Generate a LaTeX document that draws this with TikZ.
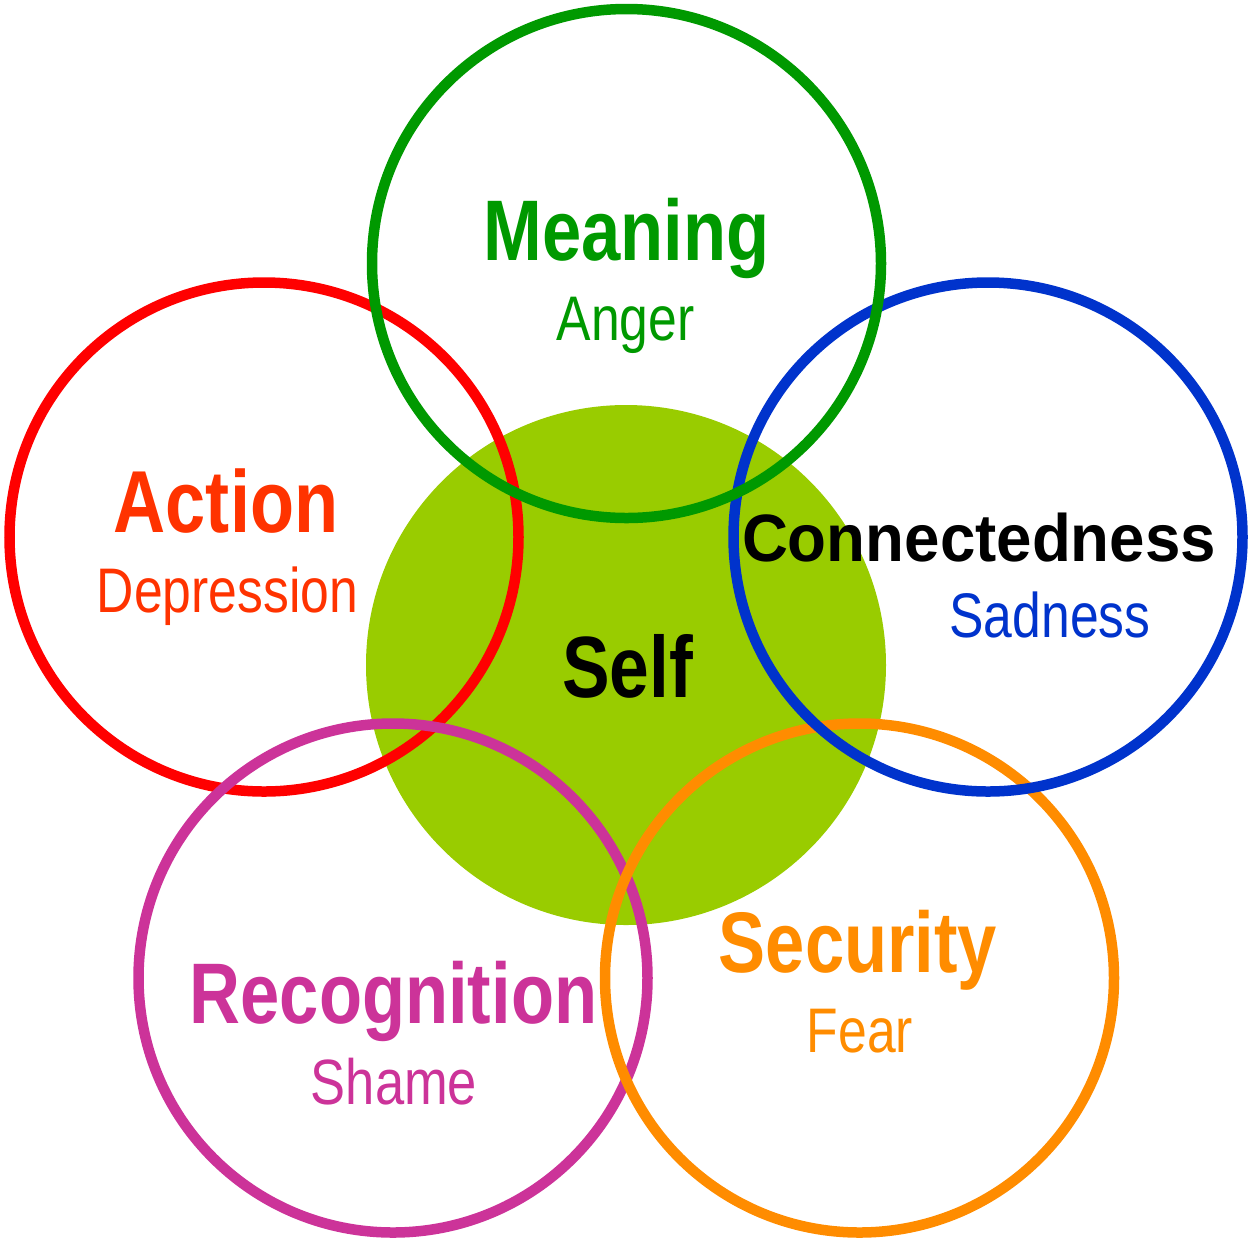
\documentclass[tikz,border=0pt]{standalone}
\usepackage{fontspec}
\setmainfont{Liberation Sans}
\newfontfamily\narrowfont[FakeStretch=0.82]{Liberation Sans}
\newfontfamily\wideboldfont[FakeStretch=0.95]{Liberation Sans}
\definecolor{meaninggreen}{HTML}{009900}
\definecolor{selfgreen}{HTML}{99CC00}
\definecolor{actionred}{HTML}{FF3300}
\definecolor{ringred}{HTML}{FF0000}
\definecolor{connblue}{HTML}{0033CC}
\definecolor{recmagenta}{HTML}{CC3399}
\definecolor{secorange}{HTML}{FF8C00}
\begin{document}
\begin{tikzpicture}[x=0.5pt,y=-0.5pt,
  ring/.style={circle, draw, line width=5.25pt, minimum size=254.5pt, inner sep=0pt},
  titletext/.style={anchor=base, inner sep=0pt, font=\narrowfont\bfseries\fontsize{43}{50}\selectfont},
  subtext/.style={anchor=base, inner sep=0pt, font=\narrowfont\fontsize{31.5}{36}\selectfont}]
\useasboundingbox (0,0) rectangle (1254,1239);
% central self
\node[circle, fill=selfgreen, minimum size=260pt, inner sep=0pt] (self) at (626,665) {};
% rings
\node[ring, draw=ringred] (action) at (264,537) {};
\node[ring, draw=recmagenta] (recognition) at (393,978) {};
\node[ring, draw=secorange] (security) at (859.5,978) {};
\node[ring, draw=connblue] (connectedness) at (988,537) {};
\node[ring, draw=meaninggreen] (meaning) at (626.5,263.5) {};
% texts
\node[titletext, text=meaninggreen] (tmeaning) at (626.5,260) {Meaning};
\node[subtext, text=meaninggreen, font=\narrowfont\fontsize{31.5}{36}\selectfont] (tanger) at (625.5,340) {Anger};
\node[titletext, text=actionred, font=\narrowfont\bfseries\fontsize{44}{50}\selectfont] (taction) at (226,532) {Action};
\node[subtext, text=actionred] (tdepression) at (227.5,612) {Depression};
\node[anchor=base, inner sep=0pt, font=\wideboldfont\bfseries\fontsize{33.5}{40}\selectfont] (tconn) at (979,561) {Connectedness};
\node[subtext, text=connblue] (tsadness) at (1050,637) {Sadness};
\node[titletext, text=black, font=\narrowfont\bfseries\fontsize{43.5}{50}\selectfont] (tself) at (627.5,697) {Self};
\node[titletext, text=recmagenta] (trec) at (393.5,1023) {Recognition};
\node[subtext, text=recmagenta, font=\narrowfont\fontsize{32}{36}\selectfont] (tshame) at (394,1104) {Shame};
\node[titletext, text=secorange] (tsec) at (858,972) {Security};
\node[subtext, text=secorange] (tfear) at (860,1052) {Fear};
\end{tikzpicture}
\end{document}
